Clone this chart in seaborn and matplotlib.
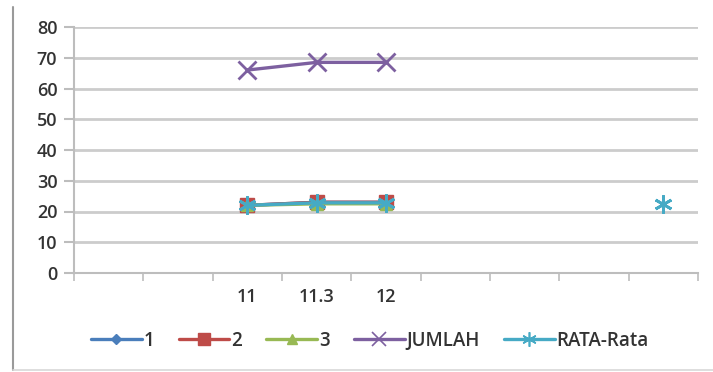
import numpy as np
import pandas as pd
import matplotlib
matplotlib.use("Agg")
import matplotlib.pyplot as plt
from matplotlib.lines import Line2D
import seaborn as sns

# Category slots along the x axis (empty slots have no label)
slot_labels = ["", "", "11", "11.3", "12", "", "", "", ""]

nan = np.nan
seri_1 = [nan, nan, 22.0, 23.0, 23.0, nan, nan, nan, nan]
seri_2 = [nan, nan, 22.0, 23.0, 23.0, nan, nan, nan, nan]
seri_3 = [nan, nan, 22.0, 22.5, 22.5, nan, nan, nan, nan]
jumlah = [nan, nan, 66.0, 68.5, 68.5, nan, nan, nan, nan]
rata_rata = [nan, nan, 22.0, 22.83, 22.83, nan, nan, nan, 22.56]

series_names = ["1", "2", "3", "JUMLAH", "RATA-Rata"]
series_values = [seri_1, seri_2, seri_3, jumlah, rata_rata]
colors = ["#4A7EBB", "#BE4B48", "#98B954", "#7D60A0", "#46AAC5"]
markers = ["D", "s", "^", "x", (6, 2, 0)]
msizes = [7, 10, 9, 13, 13]

sns.set_theme(style="white")
plt.rcParams["font.family"] = ["Open Sans", "DejaVu Sans"]
plt.rcParams["font.weight"] = 600

fig = plt.figure(figsize=(7.13, 3.72), dpi=100)
ax = fig.add_axes([74 / 713, 1 - 273 / 372, (698 - 74) / 713, (273 - 27) / 372])

text_color = "#333333"
grid_color = "#cccccc"

x_pos = np.arange(len(slot_labels))
handles = []
for name, vals, col, mk, ms in zip(series_names, series_values, colors, markers, msizes):
    df = pd.DataFrame({"x": x_pos, "y": vals})
    # split into runs of consecutive values so gaps stay open
    valid = df["y"].notna().to_numpy()
    run_id = np.cumsum(~valid)
    thin = mk == "x" or isinstance(mk, tuple)
    for _, seg in df[valid].groupby(run_id[valid]):
        sns.lineplot(data=seg, x="x", y="y", ax=ax, color=col, lw=2.4,
                     marker=mk, markersize=ms, markeredgewidth=2.0 if thin else 1.0,
                     markeredgecolor=col, markerfacecolor=col, legend=False)
    handles.append(Line2D([], [], color=col, lw=2.4, marker=mk,
                          markersize=ms * 0.8, markeredgecolor=col,
                          markerfacecolor=col,
                          markeredgewidth=1.2 if thin else 1.0))

ax.set_xlim(-0.5, len(slot_labels) - 0.5)
ax.set_ylim(0, 80)
ax.set_yticks(np.arange(0, 81, 10))
ax.set_xticks(x_pos)
ax.set_xticklabels(slot_labels)
ax.set_xticks(np.arange(-0.5, len(slot_labels)), minor=True)
ax.set_xlabel("")
ax.set_ylabel("")

ax.grid(axis="y", color=grid_color, lw=2.0)
ax.set_axisbelow(True)
for side in ("top", "right"):
    ax.spines[side].set_visible(False)
for side in ("left", "bottom"):
    ax.spines[side].set_color("#bdbdbd")
    ax.spines[side].set_linewidth(1.5)

ax.tick_params(axis="y", which="major", length=7, width=1.5, color="#bdbdbd",
               labelsize=13, labelcolor=text_color, pad=5, left=True)
ax.tick_params(axis="x", which="major", length=0, labelsize=13,
               labelcolor=text_color, pad=11)
ax.tick_params(axis="x", which="minor", length=6, width=1.2, color="#bdbdbd",
               bottom=True)

fig.legend(handles=handles, labels=series_names, loc="center",
           bbox_to_anchor=(370 / 713, 1 - 341 / 372), ncol=5, frameon=False,
           handlelength=2.7, handletextpad=0.1, columnspacing=1.3,
           fontsize=13.5, labelcolor=text_color)

# chart frame on the left and bottom
fig.add_artist(Line2D([13 / 713, 13 / 713], [1 - 7 / 372, 1 - 370 / 372],
                      color="#9a9a9a", lw=1.5, transform=fig.transFigure))
fig.add_artist(Line2D([13 / 713, 1.0], [1 - 370 / 372, 1 - 370 / 372],
                      color="#d8d8d8", lw=1.2, transform=fig.transFigure))

fig.savefig("out.png", dpi=100)
